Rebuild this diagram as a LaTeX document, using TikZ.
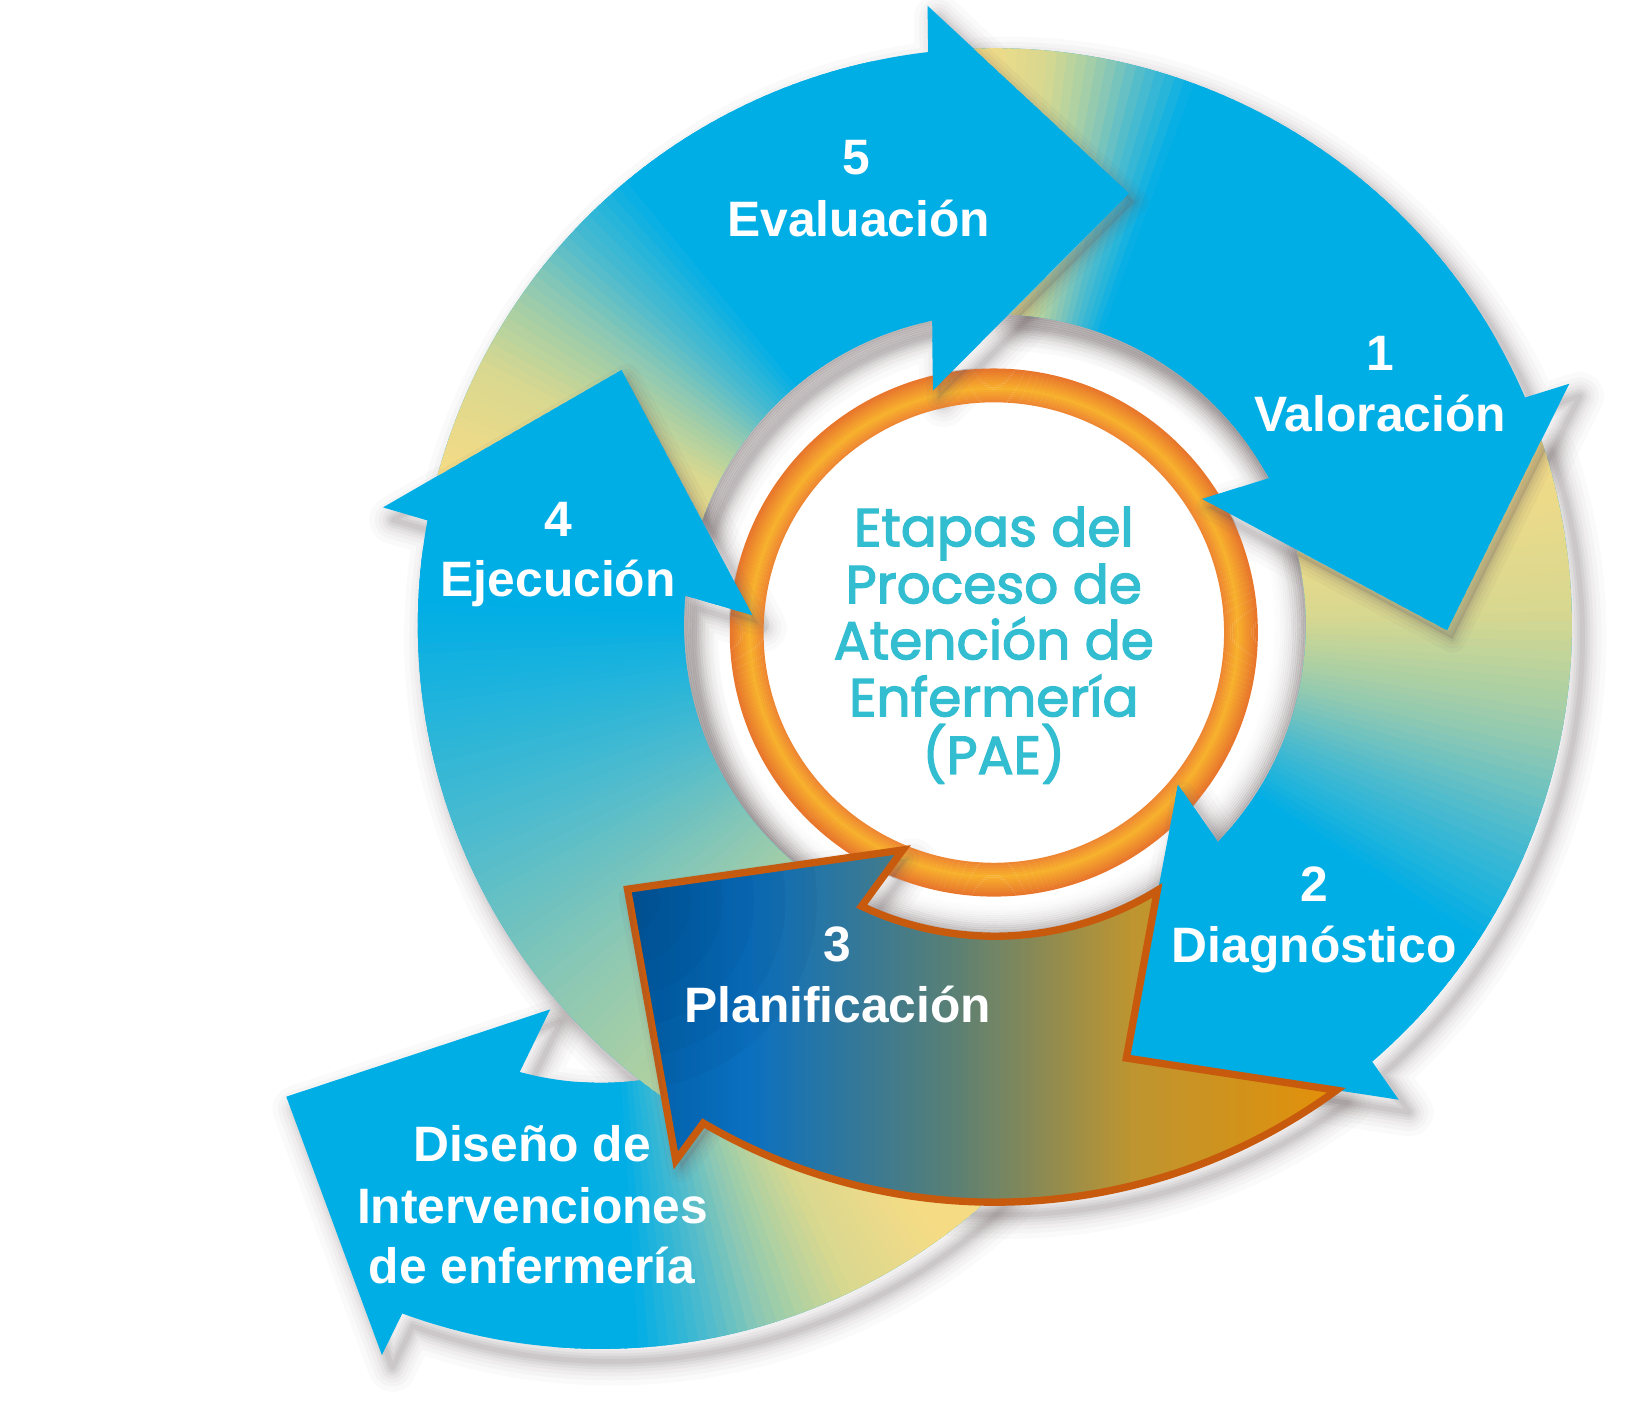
\documentclass[tikz,border=0pt]{standalone}
\usepackage{fontspec}
\setmainfont{Liberation Sans}
\newfontfamily\popfont[FakeBold=2.4]{Poppins}
\definecolor{cy}{HTML}{00AEE6}
\definecolor{g0}{HTML}{F6DB85}
\definecolor{g1}{HTML}{D8D890}
\definecolor{g2}{HTML}{ADD0A2}
\definecolor{g3}{HTML}{8CC8B4}
\definecolor{g4}{HTML}{4DBBCE}
\definecolor{g5}{HTML}{00AEE6}
\definecolor{s0}{HTML}{005CA4}
\definecolor{s1}{HTML}{0A70C0}
\definecolor{s2}{HTML}{587F76}
\definecolor{s3}{HTML}{BE9530}
\definecolor{s4}{HTML}{E39008}
\definecolor{navy}{HTML}{003C70}
\definecolor{o0}{HTML}{EE8732}
\definecolor{o1}{HTML}{F8B12C}
\definecolor{o2}{HTML}{E8772C}
\definecolor{txtc}{HTML}{33BDD0}
\definecolor{shc}{HTML}{6E6264}
\definecolor{brd}{HTML}{C85A0E}

\newcommand\setgc[1]{%
  \pgfmathsetmacro\gcB{max(0,min(36,#1))}%
  \ifdim\gcB pt<12pt
    \pgfmathsetmacro\gcP{(12-\gcB)/12*100}\colorlet{gc}{g0!\gcP!g1}%
  \else\ifdim\gcB pt<18pt
    \pgfmathsetmacro\gcP{(18-\gcB)/6*100}\colorlet{gc}{g1!\gcP!g2}%
  \else\ifdim\gcB pt<22pt
    \pgfmathsetmacro\gcP{(22-\gcB)/4*100}\colorlet{gc}{g2!\gcP!g3}%
  \else\ifdim\gcB pt<28pt
    \pgfmathsetmacro\gcP{(28-\gcB)/6*100}\colorlet{gc}{g3!\gcP!g4}%
  \else
    \pgfmathsetmacro\gcP{(36-\gcB)/8*100}\colorlet{gc}{g4!\gcP!g5}%
  \fi\fi\fi\fi}

\newcommand\setsc[1]{%
  \pgfmathsetmacro\scX{max(593,min(1275,#1))}%
  \ifdim\scX pt<716pt
    \pgfmathsetmacro\scP{(716-\scX)/123*100}\colorlet{sc}{s0!\scP!s1}%
  \else\ifdim\scX pt<907pt
    \pgfmathsetmacro\scP{(907-\scX)/191*100}\colorlet{sc}{s1!\scP!s2}%
  \else\ifdim\scX pt<1082pt
    \pgfmathsetmacro\scP{(1082-\scX)/175*100}\colorlet{sc}{s2!\scP!s3}%
  \else
    \pgfmathsetmacro\scP{(1275-\scX)/193*100}\colorlet{sc}{s3!\scP!s4}%
  \fi\fi\fi}

\tikzset{
  arrowp/.style 2 args={insert path={(#2+19.4:551) arc[start angle=#2+19.4, end angle=#1+23.94, radius=551] -- (#1+23.5:595) -- (#1:432) -- (#1+32:232) -- (#1+28.93:297) arc[start angle=#1+28.93, end angle=#2+14.6, radius=297] -- (#2:432) -- cycle}},
  headp/.style={insert path={(#1+23.5:595) -- (#1:432) -- (#1+32:232) -- cycle}},
  diseno/.style={insert path={(320:551) arc[start angle=320, end angle=249.84, radius=551] -- (249.4:595) -- (225.9:432) -- (257.9:232) -- (254.83:297) arc[start angle=254.83, end angle=320, radius=297] -- cycle}},
  lab/.style={text=white, font=\bfseries\fontsize{47.5}{57}\selectfont, anchor=base, inner sep=0pt},
  ctr/.style={text=txtc, font=\popfont\fontsize{51}{54}\selectfont, anchor=base, inner sep=0pt},
}

\newcommand\softshadow[1]{%
  \foreach \w/\o in {46/0.03,36/0.035,28/0.045,21/0.055,15/0.065,10/0.075,5/0.085}{%
    \draw[shc, line width=\w, opacity=\o, line join=round, #1];}}

\newcommand\gradarrow[5]{%
  \begin{scope}
    \path[clip, arrowp={#1}{#2}];
    \fill[cy] (-700,-700) rectangle (700,700);
    \foreach \k in {0,...,62}{%
      \pgfmathsetmacro\angA{#3-\k}%
      \setgc{#4+#5*\k}%
      \fill[gc] (0,0) -- (\angA+0.7:720) -- (\angA-0.7:720) -- cycle;}
  \end{scope}}

\newcommand\headshadow[2]{%
  \begin{scope}
    \path[clip, arrowp=#2];
    \begin{scope}[shift={(5,-8)}]
      \fill[shc, opacity=0.22, headp=#1];
      \foreach \w/\o in {26/0.05,18/0.06,11/0.08,5/0.1}{%
        \draw[shc, line width=\w, opacity=\o, line join=round, headp=#1];}
    \end{scope}
  \end{scope}}

\begin{document}
\begin{tikzpicture}[x=1pt,y=1pt]
\useasboundingbox (0,0) rectangle (1567,-1361);
\fill[white] (0,0) rectangle (1567,-1361);

% ---------- soft shadows ----------
\begin{scope}[shift={(584,-749)}]
  \softshadow{diseno}
\end{scope}
\begin{scope}[shift={(960,-609)}]
  \softshadow{arrowp={145.6}{215.7}}
  \softshadow{arrowp={72.7}{145.6}}
  \softshadow{arrowp={-0.7}{72.7}}
  \softshadow{arrowp={-73.1}{-0.7}}
  \softshadow{arrowp={215.7}{286.9}}
\end{scope}
\begin{scope}[shift={(950,-597)}]
  \foreach \i in {0,...,15}{%
    \pgfmathsetmacro\shO{0.4*(1-\i/16)^2}%
    \draw[shc, line width=2.2, opacity=\shO] (0,0) circle[radius=296-2*\i];}
\end{scope}

% ---------- central orange ring ----------
\begin{scope}[shift={(949,-604)}]
  \foreach \i in {0,...,15}{%
    \ifnum\i<7 \pgfmathsetmacro\ocP{(6-\i)/6*100}\colorlet{oc}{o0!\ocP!o1}%
    \else \pgfmathsetmacro\ocP{(15-\i)/9*100}\colorlet{oc}{o1!\ocP!o2}\fi
    \draw[oc, line width=2.3] (0,0) circle[radius=221+2*\i];}
  \begin{scope}
    \clip (0,0) circle[radius=253];
    \begin{scope}[shift={(6,-1)}]
      \foreach \p in {72.7,-0.7,145.6,-73.1,215.7}{%
        \fill[shc, opacity=0.2, headp=\p];
        \foreach \w/\o in {22/0.06,12/0.08,5/0.1}{%
          \draw[shc, line width=\w, opacity=\o, line join=round, headp=\p];}}
    \end{scope}
  \end{scope}
\end{scope}

% ---------- arrow: Diseño de intervenciones ----------
\begin{scope}[shift={(574,-737)}]
  \begin{scope}
    \path[clip, diseno];
    \fill[cy] (-800,-800) rectangle (800,800);
    \foreach \k in {-15,...,40}{%
      \pgfmathsetmacro\angA{306-\k}%
      \setgc{1.1*\k}%
      \fill[gc] (0,0) -- (\angA+0.7:800) -- (\angA-0.7:800) -- cycle;}
    \begin{scope}[shift={(376,140)}]
      \begin{scope}[shift={(5,-8)}]
        \fill[shc, opacity=0.2, headp=215.7];
        \foreach \w/\o in {26/0.05,18/0.06,11/0.08,5/0.1}{%
          \draw[shc, line width=\w, opacity=\o, line join=round, headp=215.7];}
      \end{scope}
    \end{scope}
  \end{scope}
\end{scope}

% ---------- main ring arrows ----------
\begin{scope}[shift={(950,-597)}]
  \gradarrow{145.6}{215.7}{235.1}{17}{0.33}
  \gradarrow{72.7}{145.6}{165}{0}{1}
  \gradarrow{-0.7}{72.7}{92.1}{0}{1.6}
  \gradarrow{-73.1}{-0.7}{18.7}{0}{0.69}
  \begin{scope}
    \path[clip, arrowp={215.7}{286.9}];
    \foreach \X in {585,590,...,1290}{%
      \setsc{\X+2.5}%
      \fill[sc] (\X-950-0.5,-700) rectangle (\X-950+5.5,700);}
    \foreach \rr in {30,60,...,180}{%
      \fill[navy, opacity=0.07] (600-950,-860+597) circle[radius=\rr];}
  \end{scope}
  \draw[brd, line width=7, line join=miter, arrowp={215.7}{286.9}];
  \headshadow{72.7}{{-0.7}{72.7}}
  \headshadow{-0.7}{{-73.1}{-0.7}}
  \headshadow{145.6}{{72.7}{145.6}}
  \headshadow{215.7}{{145.6}{215.7}}
\end{scope}

% ---------- labels ----------
\node[lab] (n5) at (818,-167) {5};
\node[lab] (t5) at (820,-226) {Evaluación};
\node[lab] (n1) at (1318,-354) {1};
\node[lab] (t1) at (1318,-412) {Valoración};
\node[lab] (n2) at (1255,-861) {2};
\node[lab] (t2) at (1255,-919) {Diagnóstico};
\node[lab] (n3) at (800,-918.5) {3};
\node[lab] (t3) at (800,-976) {Planificación};
\node[lab] (n4) at (533,-512.6) {4};
\node[lab] (t4) at (533,-570) {Ejecución};
\node[lab] (d1) at (508,-1109.5) {Diseño de};
\node[lab] (d2) at (508.6,-1168.4) {Intervenciones};
\node[lab] (d3) at (508,-1225.7) {de enfermería};

\node[ctr] (c1) at (949,-521.6) {Etapas del};
\node[ctr] (c2) at (949,-576) {Proceso de};
\node[ctr] (c3) at (949,-629.5) {Atención de};
\node[ctr] (c4) at (949,-684) {Enfermería};
\node[ctr] (c5) at (949,-739) {(PAE)};
\end{tikzpicture}
\end{document}
